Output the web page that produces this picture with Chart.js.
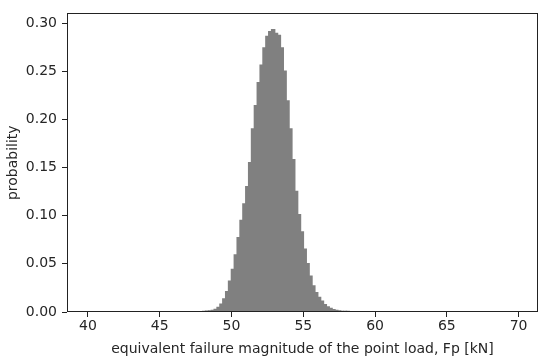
<!DOCTYPE html>
<html>
<head>
<meta charset="utf-8">
<script src="https://cdn.jsdelivr.net/npm/chart.js@4.4.1/dist/chart.umd.min.js"></script>
<style>
  html, body { margin: 0; padding: 0; background: #fff; }
  #wrap { width: 539px; height: 358px; position: relative; }
</style>
</head>
<body>
<div id="wrap"><canvas id="c" width="539" height="358"></canvas></div>
<script>
// Bin centres (kN), bin width 0.2
const binCenters = [48.1, 48.3, 48.5, 48.7, 48.9, 49.1, 49.3, 49.5, 49.7, 49.9,
  50.1, 50.3, 50.5, 50.7, 50.9, 51.1, 51.3, 51.5, 51.7, 51.9,
  52.1, 52.3, 52.5, 52.7, 52.9, 53.1, 53.3, 53.5, 53.7, 53.9,
  54.1, 54.3, 54.5, 54.7, 54.9, 55.1, 55.3, 55.5, 55.7, 55.9,
  56.1, 56.3, 56.5, 56.7, 56.9, 57.1, 57.3, 57.5, 57.7, 57.9, 58.1];
// Probability density per bin
const probability = [0.0004, 0.0006, 0.0010, 0.0016, 0.0025, 0.0045, 0.0080, 0.0135, 0.0210, 0.0320,
  0.0440, 0.0590, 0.0770, 0.0950, 0.1120, 0.1300, 0.1550, 0.1900, 0.2140, 0.2380,
  0.2560, 0.2740, 0.2860, 0.2910, 0.2930, 0.2890, 0.2870, 0.2740, 0.2500, 0.2190,
  0.1900, 0.1580, 0.1250, 0.1010, 0.0830, 0.0650, 0.0500, 0.0370, 0.0270, 0.0200,
  0.0150, 0.0110, 0.0075, 0.0052, 0.0036, 0.0024, 0.0015, 0.0009, 0.0005, 0.0003, 0.0002];
const xTicks = [40, 45, 50, 55, 60, 65, 70];
const yTicks = [0.00, 0.05, 0.10, 0.15, 0.20, 0.25, 0.30];

const FONT = "'DejaVu Sans', sans-serif";
const TXT = '#262626';

const frame = {
  id: 'frame',
  afterDraw(chart) {
    const a = chart.chartArea, ctx = chart.ctx;
    ctx.save();
    ctx.strokeStyle = '#222';
    ctx.lineWidth = 1;
    ctx.strokeRect(Math.round(a.left) + 0.5, Math.round(a.top) + 0.5,
      Math.round(a.right - a.left) - 1, Math.round(a.bottom - a.top) - 1);
    ctx.restore();
  }
};

new Chart(document.getElementById('c'), {
  type: 'bar',
  data: {
    datasets: [{
      data: binCenters.map((x, i) => ({ x: x, y: probability[i] })),
      backgroundColor: 'rgb(128,128,128)',
      borderWidth: 0,
      inflateAmount: 0.8,
      barPercentage: 1,
      categoryPercentage: 1
    }]
  },
  options: {
    responsive: false,
    animation: false,
    devicePixelRatio: 1,
    layout: { padding: { top: 5, right: 1, left: 0, bottom: 0 } },
    plugins: { legend: { display: false }, tooltip: { enabled: false } },
    scales: {
      x: {
        type: 'linear',
        offset: false,
        min: 38.54, max: 71.35,
        afterBuildTicks: s => { s.ticks = xTicks.map(v => ({ value: v })); },
        afterFit: s => { s.height = 46; },
        grid: { offset: false, drawOnChartArea: false, drawTicks: true, tickLength: 5, color: '#222' },
        border: { display: false },
        ticks: { font: { family: FONT, size: 14 }, color: TXT, padding: 1, maxRotation: 0,
          callback: v => String(v) },
        title: { display: true, text: 'equivalent failure magnitude of the point load, Fp [kN]',
          font: { family: FONT, size: 14 }, color: TXT, padding: { top: 0, bottom: 0 } }
      },
      y: {
        min: 0, max: 0.31,
        afterBuildTicks: s => { s.ticks = yTicks.map(v => ({ value: v })); },
        afterFit: s => { s.width = 67; },
        grid: { drawOnChartArea: false, drawTicks: true, tickLength: 5, color: '#222' },
        border: { display: false },
        ticks: { font: { family: FONT, size: 14 }, color: TXT, padding: 5,
          callback: v => v.toFixed(2) },
        title: { display: true, text: 'probability',
          font: { family: FONT, size: 14 }, color: TXT, padding: { top: 5, bottom: 0 } }
      }
    }
  },
  plugins: [frame]
});
</script>
</body>
</html>
